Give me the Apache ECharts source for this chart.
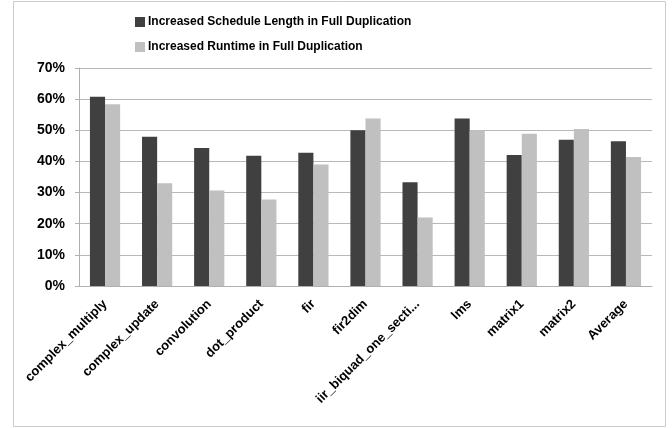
<!DOCTYPE html>
<html>
<head>
<meta charset="utf-8">
<script src="https://cdn.jsdelivr.net/npm/echarts@6/dist/echarts.min.js"></script>
<style>
  html, body { margin: 0; padding: 0; background: #fff; }
  #chart { width: 672px; height: 428px; }
</style>
</head>
<body>
<div id="chart"></div>
<script>
// Benchmarks on the category axis
const categories = ['complex_multiply', 'complex_update', 'convolution', 'dot_product', 'fir',
  'fir2dim', 'iir_biquad_one_sections', 'lms', 'matrix1', 'matrix2', 'Average'];

// Percent increase per benchmark
const scheduleLength = [60.8, 47.9, 44.3, 41.8, 42.8, 50.0, 33.3, 53.8, 42.1, 47.0, 46.5];
const runtime = [58.4, 33.0, 30.7, 27.8, 39.0, 53.8, 22.0, 50.0, 48.9, 50.4, 41.4];

const seriesNames = ['Increased Schedule Length in Full Duplication', 'Increased Runtime in Full Duplication'];

const FONT = "'Liberation Sans Narrow', 'Liberation Sans', sans-serif";

const chart = echarts.init(document.getElementById('chart'));
chart.setOption({
  animation: false,
  textStyle: { fontFamily: FONT },
  graphic: [{
    type: 'rect',
    shape: { x: 13.5, y: 1.5, width: 652, height: 425 },
    style: { fill: 'none', stroke: '#cccccc', lineWidth: 1 },
    silent: true
  }],
  legend: {
    orient: 'vertical',
    left: 130,
    top: 11,
    itemWidth: 10,
    itemHeight: 10,
    itemGap: 13,
    icon: 'rect',
    textStyle: { fontFamily: FONT, fontWeight: 'bold', fontSize: 12, color: '#000', padding: [0, 0, 0, -2] },
    data: seriesNames
  },
  grid: { left: 79, right: 20, top: 68, bottom: 142, containLabel: false },
  xAxis: {
    type: 'category',
    data: categories,
    axisLine: { lineStyle: { color: '#b0b0b0' } },
    axisTick: { alignWithLabel: false, length: 5, lineStyle: { color: '#b0b0b0' } },
    axisLabel: {
      interval: 0,
      rotate: 45,
      margin: 16,
      color: '#000',
      fontFamily: FONT,
      fontWeight: 'bold',
      fontSize: 13,
      formatter: v => v.length > 20 ? v.slice(0, 20) + '...' : v
    }
  },
  yAxis: {
    type: 'value',
    min: 0,
    max: 70,
    interval: 10,
    axisLine: { show: true, lineStyle: { color: '#b0b0b0' } },
    axisTick: { show: true, length: 4, lineStyle: { color: '#b0b0b0' } },
    splitLine: { lineStyle: { color: '#b8b8b8' } },
    axisLabel: {
      margin: 14,
      color: '#000',
      fontFamily: FONT,
      fontWeight: 'bold',
      fontSize: 14,
      formatter: '{value}%'
    }
  },
  series: [
    {
      name: seriesNames[0],
      type: 'bar',
      data: scheduleLength,
      barGap: '0%',
      barCategoryGap: '42%',
      itemStyle: { color: '#404040' }
    },
    {
      name: seriesNames[1],
      type: 'bar',
      data: runtime,
      barGap: '0%',
      barCategoryGap: '42%',
      itemStyle: { color: '#c0c0c0' }
    }
  ]
});
</script>
</body>
</html>
